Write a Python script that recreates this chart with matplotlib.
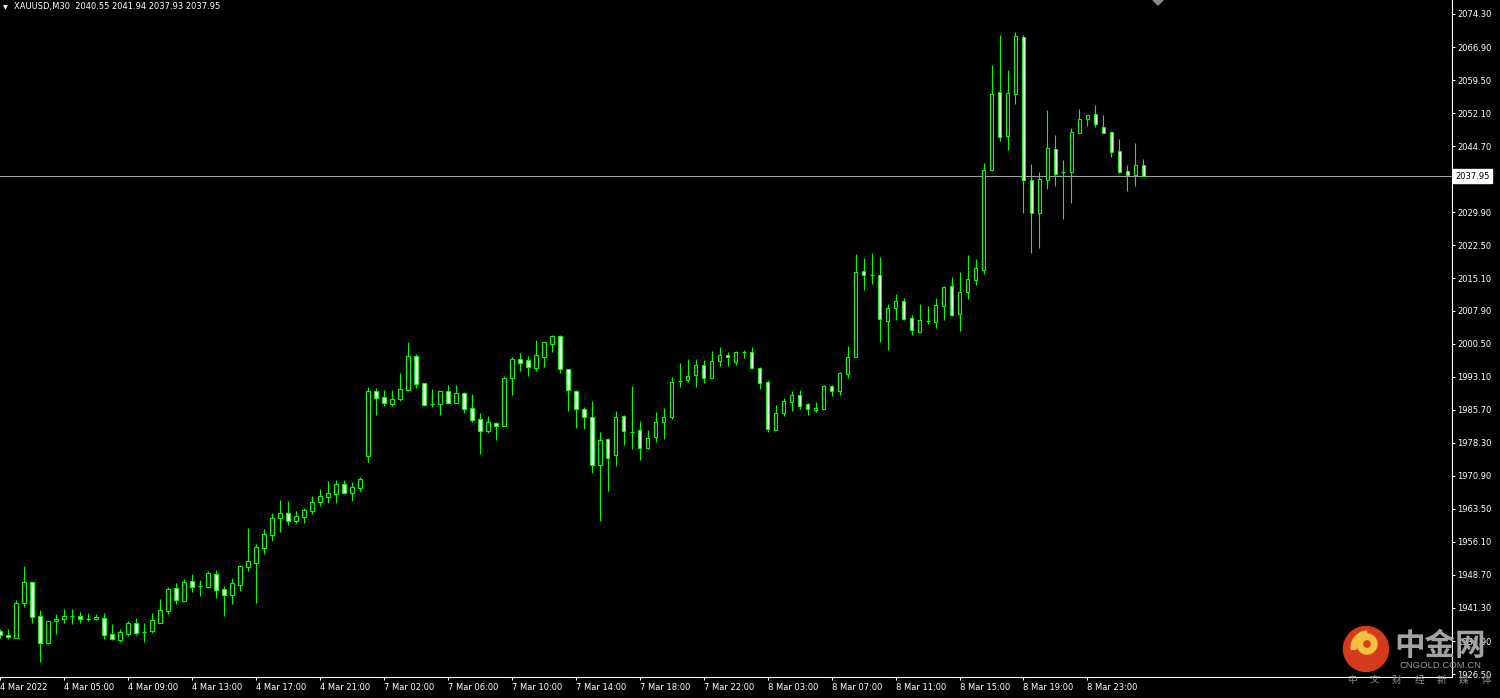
import numpy as np
import matplotlib
matplotlib.use("Agg")
import matplotlib.pyplot as plt
from matplotlib.patches import Circle, Wedge, Polygon

# XAUUSD M30 bars, 4 Mar 01:00 -> 8 Mar 2022
opens = [
    1936.15, 1935.26, 1934.65, 1942.35, 1947.05, 1939.44, 1933.53, 1938.38, 1938.82, 1939.44,
    1939.42, 1938.91, 1938.82, 1939.13, 1935.40, 1934.21, 1935.55, 1937.88, 1936.00, 1936.22,
    1938.01, 1940.69, 1945.78, 1942.93, 1947.34, 1946.16, 1946.07, 1948.91, 1945.55, 1944.28,
    1946.52, 1950.55, 1951.44, 1954.80, 1957.71, 1961.52, 1962.57, 1960.85, 1961.74, 1963.09,
    1965.10, 1966.22, 1966.89, 1969.06, 1967.12, 1968.23, 1975.40, 1989.89, 1988.47, 1987.04,
    1988.16, 1990.18, 1997.72, 1991.61, 1987.04, 1987.04, 1989.82, 1987.27, 1989.44, 1986.01,
    1983.62, 1981.00, 1982.79, 1982.12, 1992.86, 1996.98, 1996.76, 1995.10, 1997.57, 2000.48,
    2002.20, 1994.74, 1989.89, 1985.79, 1984.00, 1973.25, 1979.07, 1975.49, 1984.22, 1980.64,
    1981.09, 1977.06, 1979.52, 1982.88, 1984.00, 1992.06, 1992.28, 1993.40, 1995.64, 1992.73,
    1996.54, 1997.88, 1996.31, 1998.55, 1998.55, 1994.97, 1991.83, 1981.22, 1984.89, 1987.49,
    1988.92, 1986.91, 1985.70, 1985.92, 1990.94, 1989.95, 1993.76, 1997.43, 2016.69, 2015.92,
    2015.79, 2005.49, 2008.54, 2009.97, 2006.16, 2003.16, 2005.62, 2005.40, 2008.85, 2013.33,
    2007.06, 2012.12, 2014.81, 2017.05, 2039.43, 2056.76, 2047.05, 2056.45, 2069.08, 2037.06,
    2029.81, 2037.20, 2044.00, 2038.92, 2038.99, 2047.72, 2050.72, 2051.84, 2048.93, 2047.81,
    2043.55, 2039.14, 2038.31, 2040.55]
highs = [
    1936.60, 1936.60, 1943.09, 1950.70, 1947.10, 1940.85, 1938.40, 1939.87, 1940.99, 1940.99,
    1940.32, 1940.09, 1939.87, 1940.09, 1937.72, 1936.60, 1938.39, 1939.06, 1937.95, 1940.09,
    1943.31, 1946.00, 1946.90, 1947.79, 1948.91, 1947.57, 1949.58, 1949.80, 1946.23, 1948.02,
    1950.93, 1959.21, 1955.63, 1958.99, 1962.57, 1965.48, 1965.25, 1963.02, 1963.69, 1966.38,
    1967.94, 1969.73, 1969.96, 1969.96, 1969.51, 1970.63, 1990.85, 1990.48, 1990.10, 1990.10,
    1993.98, 2000.86, 1998.17, 1991.74, 1990.33, 1989.95, 1991.23, 1991.23, 1989.66, 1989.21,
    1984.96, 1984.29, 1983.01, 1993.24, 1997.50, 1998.39, 1997.72, 2001.30, 2000.86, 2002.43,
    2002.43, 1994.80, 1990.10, 1986.30, 1987.64, 1980.70, 1979.36, 1985.41, 1984.51, 1991.01,
    1983.17, 1981.15, 1985.18, 1986.08, 1993.02, 1996.15, 1997.05, 1997.05, 1996.83, 1998.84,
    1999.74, 1998.62, 1998.84, 1999.07, 1999.74, 1995.26, 1992.35, 1986.68, 1988.25, 1989.89,
    1990.10, 1987.13, 1987.36, 1991.16, 1991.16, 1994.07, 1999.96, 2020.56, 2019.67, 2020.78,
    2019.89, 2009.30, 2011.60, 2010.64, 2006.83, 2009.37, 2008.92, 2010.64, 2013.33, 2015.41,
    2016.53, 2020.33, 2019.44, 2040.93, 2062.88, 2069.59, 2061.76, 2070.27, 2069.59, 2040.71,
    2038.92, 2052.80, 2047.20, 2041.61, 2048.77, 2053.03, 2051.61, 2053.92, 2051.68, 2047.88,
    2046.31, 2040.49, 2045.41, 2041.94]
lows = [
    1934.59, 1934.43, 1934.65, 1941.59, 1938.01, 1929.28, 1933.31, 1935.47, 1937.95, 1937.72,
    1937.95, 1938.31, 1938.53, 1934.28, 1934.14, 1933.76, 1935.10, 1935.26, 1933.69, 1935.71,
    1938.01, 1940.02, 1942.19, 1942.93, 1944.95, 1943.99, 1945.84, 1943.60, 1939.58, 1942.26,
    1945.17, 1949.65, 1942.49, 1953.46, 1956.37, 1958.38, 1959.95, 1960.40, 1960.40, 1962.41,
    1964.20, 1964.88, 1964.88, 1966.89, 1965.33, 1967.56, 1974.06, 1984.51, 1986.59, 1986.59,
    1987.71, 1989.95, 1990.62, 1986.59, 1986.37, 1984.58, 1987.04, 1987.27, 1985.03, 1983.01,
    1975.85, 1980.55, 1978.98, 1982.12, 1988.99, 1994.43, 1993.31, 1994.43, 1995.33, 1998.69,
    1993.85, 1985.41, 1981.67, 1981.45, 1971.59, 1960.84, 1967.56, 1973.03, 1977.86, 1976.83,
    1974.50, 1976.83, 1978.40, 1979.20, 1983.55, 1990.71, 1991.97, 1990.85, 1991.74, 1992.73,
    1995.55, 1995.55, 1995.77, 1997.27, 1994.97, 1990.40, 1980.77, 1981.22, 1984.36, 1985.47,
    1985.92, 1984.58, 1985.25, 1985.92, 1988.83, 1989.06, 1992.86, 1997.43, 2012.57, 2013.91,
    2000.92, 1999.13, 2005.85, 2005.85, 2002.49, 2003.16, 2004.95, 2004.06, 2005.85, 2006.75,
    2003.39, 2010.55, 2013.69, 2016.15, 2039.21, 2045.93, 2043.91, 2054.21, 2029.81, 2020.85,
    2021.97, 2035.18, 2035.85, 2028.46, 2032.05, 2047.72, 2049.22, 2049.06, 2047.72, 2042.35,
    2038.76, 2034.73, 2035.85, 2037.93]
closes = [
    1935.26, 1934.74, 1942.35, 1947.05, 1939.35, 1933.53, 1938.32, 1938.91, 1939.42, 1939.44,
    1938.82, 1938.91, 1939.20, 1935.24, 1934.43, 1935.86, 1937.95, 1935.77, 1936.00, 1938.53,
    1940.85, 1945.55, 1943.16, 1947.12, 1946.07, 1946.16, 1949.13, 1945.39, 1944.28, 1946.90,
    1950.70, 1951.82, 1954.96, 1957.87, 1961.45, 1962.57, 1960.85, 1961.90, 1963.24, 1965.03,
    1966.38, 1967.05, 1969.06, 1967.12, 1968.39, 1970.18, 1989.89, 1988.39, 1987.27, 1988.03,
    1990.27, 1997.72, 1991.52, 1986.82, 1987.04, 1989.89, 1987.27, 1989.37, 1985.92, 1983.46,
    1981.00, 1982.88, 1982.12, 1992.73, 1996.98, 1996.22, 1995.33, 1997.95, 2000.79, 2002.20,
    1994.74, 1990.04, 1985.79, 1984.00, 1973.25, 1978.85, 1974.81, 1984.00, 1980.87, 1980.64,
    1977.06, 1979.29, 1982.88, 1984.00, 1991.83, 1992.06, 1993.18, 1995.64, 1992.73, 1996.54,
    1997.88, 1997.43, 1998.55, 1998.55, 1994.97, 1991.61, 1981.31, 1984.89, 1987.58, 1988.92,
    1986.59, 1985.79, 1986.01, 1990.94, 1989.95, 1993.85, 1997.43, 2016.46, 2015.79, 2015.92,
    2005.94, 2008.40, 2009.97, 2005.94, 2003.61, 2005.71, 2005.62, 2009.07, 2013.10, 2006.97,
    2011.98, 2014.90, 2017.44, 2039.30, 2056.32, 2046.82, 2056.54, 2069.37, 2037.06, 2029.67,
    2037.29, 2044.23, 2038.54, 2038.92, 2047.81, 2050.72, 2051.61, 2049.73, 2047.72, 2043.47,
    2038.99, 2038.31, 2040.42, 2037.95]

time_labels = ["4 Mar 2022", "4 Mar 05:00", "4 Mar 09:00", "4 Mar 13:00", "4 Mar 17:00",
               "4 Mar 21:00", "7 Mar 02:00", "7 Mar 06:00", "7 Mar 10:00", "7 Mar 14:00",
               "7 Mar 18:00", "7 Mar 22:00", "8 Mar 03:00", "8 Mar 07:00", "8 Mar 11:00",
               "8 Mar 15:00", "8 Mar 19:00", "8 Mar 23:00"]
bars_per_label = 8  # one label every 4 hours of M30 bars

# 2037.30 sits under the last-price box, so it is left out
price_ticks = [2074.30, 2066.90, 2059.50, 2052.10, 2044.70, 2029.90, 2022.50,
               2015.10, 2007.90, 2000.50, 1993.10, 1985.70, 1978.30, 1970.90, 1963.50,
               1956.10, 1948.70, 1941.30, 1933.90, 1926.50]

symbol = "XAUUSD,M30"

GREEN = "#00ff00"
FS = 6.0

fig = plt.figure(figsize=(15, 6.98), dpi=100, facecolor="black")
ax = fig.add_axes([0, 21 / 698, 1452 / 1500, 677 / 698], facecolor="black")

o = np.array(opens)
h = np.array(highs)
l = np.array(lows)
c = np.array(closes)
x = np.arange(len(o))

# wicks
ax.vlines(x, l, h, color=GREEN, lw=0.8, zorder=2)
# bodies: bull = black, bear = white, green outline
body = c != o
fill = np.where(c > o, "black", "white")
ax.bar(x[body], np.abs(c - o)[body], bottom=np.minimum(o, c)[body], width=0.45,
       color=fill[body], edgecolor=GREEN, linewidth=0.8, zorder=3)
# doji
ax.hlines(o[~body], x[~body] - 0.25, x[~body] + 0.25, color=GREEN, lw=0.9, zorder=3)

# last price line
ax.axhline(c[-1], color="#a0a0a0", lw=0.75, zorder=1)

ax.set_xlim(0.0875, 181.59)
ax.set_ylim(1925.85, 2077.43)

for s in ["top", "left"]:
    ax.spines[s].set_visible(False)
for s in ["right", "bottom"]:
    ax.spines[s].set_color("white")
    ax.spines[s].set_linewidth(0.8)

ax.yaxis.tick_right()
ax.set_yticks(price_ticks)
ax.set_yticklabels([f"{v:.2f}" for v in price_ticks])
ax.tick_params(axis="y", colors="white", direction="out", length=2.5, width=0.8,
               pad=1.2, labelsize=FS)

ax.set_xticks(np.arange(len(time_labels)) * bars_per_label)
ax.set_xticklabels(time_labels, ha="left")
ax.tick_params(axis="x", colors="white", direction="out", length=2.5, width=0.8,
               pad=1.5, labelsize=FS)

ax.annotate(f"{c[-1]:.2f}", xy=(1, c[-1]), xycoords=("axes fraction", "data"),
            xytext=(2.2, 0), textcoords="offset points", ha="left", va="center",
            fontsize=FS, color="black", annotation_clip=False, zorder=10,
            bbox=dict(boxstyle="square,pad=0.3", fc="white", ec="white"))

# header line
fig.text(3 / 1500, 1 - 7.5 / 698, "\u25bc", color="white", fontsize=4.5, va="center")
fig.text(14 / 1500, 1 - 7 / 698,
         f"{symbol}  {opens[-1]:.2f} {highs[-1]:.2f} {lows[-1]:.2f} {closes[-1]:.2f}",
         color="white", fontsize=FS, va="center")

# overlay: shift marker and watermark
deco = fig.add_axes([0, 0, 1, 1], facecolor="none", zorder=20)
deco.set_xlim(0, 1500)
deco.set_ylim(698, 0)
deco.axis("off")
deco.add_patch(Polygon([(1153, 0), (1163, 0), (1158, 5)], closed=True, color="#8a8a8a"))
deco.add_patch(Circle((1366, 649), 22.5, color="#d63a1e"))
deco.add_patch(Wedge((1367, 644), 10, 0, 360, width=5.5, color="#f5c040"))
deco.add_patch(Wedge((1368, 648), 17, 175, 265, width=5, color="#f5c040"))
deco.text(1394, 646, "中金网", family=["Noto Sans CJK SC", "DejaVu Sans"],
          fontweight="bold", fontsize=22, color="#a3a3a3", va="center", ha="left")
deco.text(1440, 665, "CNGOLD.COM.CN", fontsize=6.8, color="#9a9a9a",
          family="Liberation Sans", va="center", ha="center")
for i, ch in enumerate("中文财经新媒体"):
    deco.text(1352 + 22.4 * i, 680, ch, family=["Noto Sans CJK SC", "DejaVu Sans"],
              fontsize=7, color="#8c8c8c", va="center", ha="center")

fig.savefig("out.png", dpi=100, facecolor="black")
